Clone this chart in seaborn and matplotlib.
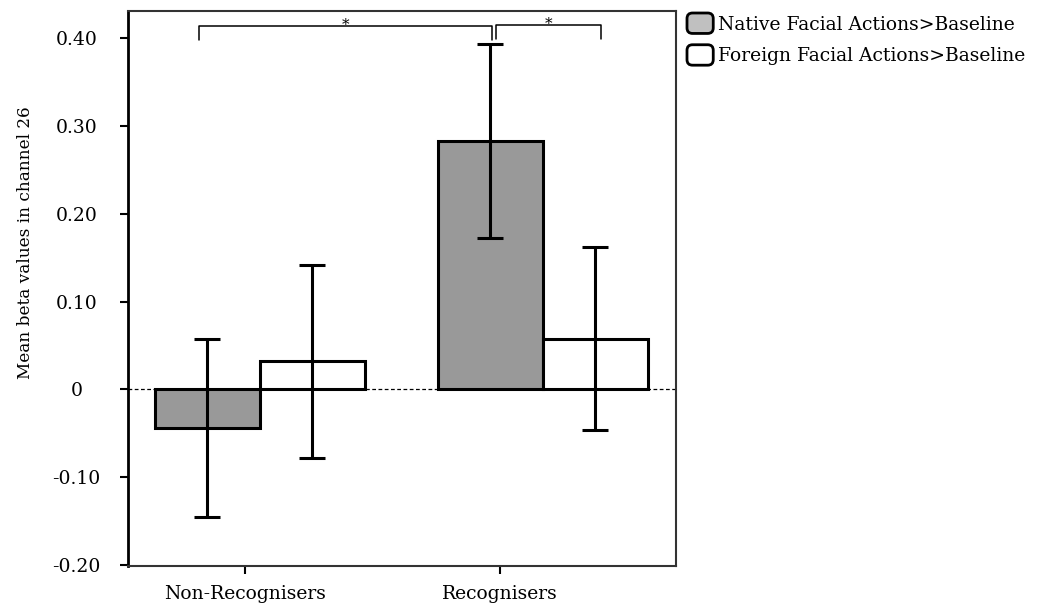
import numpy as np
import pandas as pd
import matplotlib
matplotlib.use("Agg")
import matplotlib.pyplot as plt
import seaborn as sns
from matplotlib.patches import FancyBboxPatch, Patch
from matplotlib.legend_handler import HandlerPatch

# Values
groups = ["Non-Recognisers", "Recognisers"]
conditions = ["Native Facial Actions>Baseline", "Foreign Facial Actions>Baseline"]
native_means = [-0.044, 0.283]
foreign_means = [0.032, 0.058]
native_err = [0.101, 0.110]
foreign_err = [0.110, 0.104]
ytick_vals = [-0.20, -0.10, 0, 0.10, 0.20, 0.30, 0.40]
ytick_labels = ["-0.20", "-0.10", "0", "0.10", "0.20", "0.30", "0.40"]

df = pd.DataFrame({
    "group": groups * 2,
    "condition": [conditions[0]] * 2 + [conditions[1]] * 2,
    "beta": native_means + foreign_means,
})
errs = {conditions[0]: native_err, conditions[1]: foreign_err}
colors = {conditions[0]: "#999999", conditions[1]: "#ffffff"}
legend_colors = {conditions[0]: "#c0c0c0", conditions[1]: "#ffffff"}

sns.set_style("ticks")
plt.rcParams["font.family"] = ["DejaVu Serif"]
plt.rcParams.update({"text.color": "black", "axes.labelcolor": "black",
                     "xtick.color": "black", "ytick.color": "black"})
FS = 13.5

fig = plt.figure(figsize=(10.61, 6.12), dpi=100)
ax = fig.add_axes([128 / 1061, 1 - 566 / 612, 548 / 1061, 555 / 612])

sns.barplot(data=df, x="group", y="beta", hue="condition", order=groups,
            hue_order=conditions, palette=colors, width=0.742, gap=0,
            edgecolor="black", linewidth=2.2, errorbar=None, legend=False, ax=ax)

# error bars from the bar centres
for cont, cond in zip(ax.containers, conditions):
    xs = [b.get_x() + b.get_width() / 2 for b in cont]
    ys = df[df.condition == cond].set_index("group").loc[groups, "beta"].values
    ax.errorbar(xs, ys, yerr=errs[cond], fmt="none", ecolor="black",
                elinewidth=2.2, capsize=9.5, capthick=2.2, zorder=5)

ax.axhline(0, color="black", lw=0.9, ls=(0, (3, 2)), zorder=1)

ax.set_xlim(-0.466, 1.47)
ax.set_ylim(-0.201, 0.431)
ax.set_yticks(ytick_vals)
ax.set_yticklabels(ytick_labels, fontsize=FS)
for lab in ax.get_yticklabels():
    lab.set_horizontalalignment("center")
ax.tick_params(axis="y", length=6, width=1.5, pad=31)
ax.set_xticks([-0.053, 0.848])
ax.set_xticklabels(groups, fontsize=FS)
ax.tick_params(axis="x", length=6, width=1.5, pad=8)
ax.set_xlabel("")
ax.set_ylabel("Mean beta values in channel 26", fontsize=12.2)
ax.yaxis.set_label_coords(-0.172, 0.582)

for side in ["top", "right", "bottom"]:
    ax.spines[side].set_visible(True)
    ax.spines[side].set_linewidth(1.5)
    ax.spines[side].set_color("#333333")
ax.spines["left"].set_linewidth(2)
ax.spines["left"].set_color("black")

# significance brackets
def bracket(x0, x1, y, h, txt):
    ax.plot([x0, x0, x1, x1], [y - h, y, y, y - h], color="black", lw=1.1,
            clip_on=False, zorder=6)
    ax.text((x0 + x1) / 2, y - 0.003, txt, ha="center", va="baseline",
            fontsize=11, clip_on=False)

bracket(-0.216, 0.82, 0.4137, 0.016, "*")
bracket(0.834, 1.205, 0.4147, 0.016, "*")


class RoundHandler(HandlerPatch):
    def create_artists(self, legend, orig_handle, xdescent, ydescent, width,
                       height, fontsize, trans):
        p = FancyBboxPatch((-xdescent, -ydescent), width, height,
                           boxstyle="round,pad=0,rounding_size=4",
                           facecolor=orig_handle.get_facecolor(),
                           edgecolor="black", linewidth=2, transform=trans)
        return [p]


handles = [Patch(facecolor=legend_colors[c], edgecolor="black") for c in conditions]
fig.legend(handles, conditions, loc="upper left",
           bbox_to_anchor=(687 / 1061, 1 - 13 / 612), frameon=False,
           fontsize=FS, handlelength=1.4, handleheight=1.3,
           handletextpad=0.25, labelspacing=0.6, borderpad=0, borderaxespad=0,
           handler_map={Patch: RoundHandler()})

fig.savefig("out.png", dpi=100)
